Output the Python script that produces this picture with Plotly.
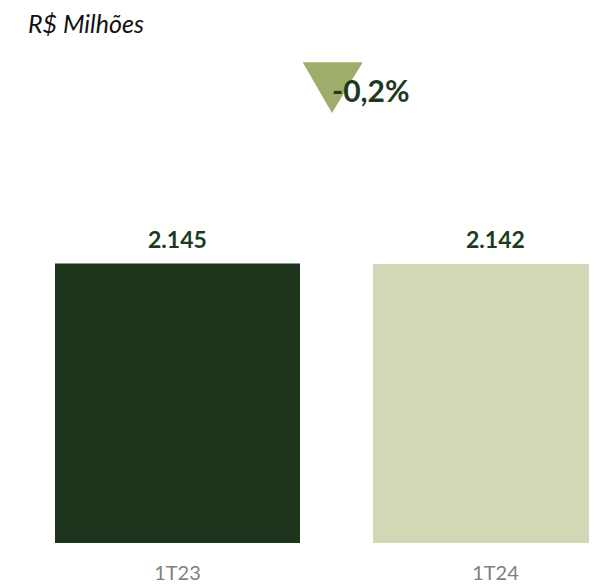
import plotly.graph_objects as go

categories = ["1T23", "1T24"]
values = [2145, 2142]
value_labels = ["2.145", "2.142"]
bar_colors = ["#1c331c", "#d1d8b5"]
change_label = "-0,2%"
unit_label = "R$ Milhões"

PAGE_W, PAGE_H = 597, 584
OFF = 8  # page body margin offset
W, H = PAGE_W - OFF, PAGE_H - OFF
plot_bottom = 548 - OFF
mb = H - plot_bottom
plot_h = plot_bottom
bar_top_px = 266 - OFF
ymax = values[0] * plot_h / (plot_h - bar_top_px)

c0 = 177.5 - OFF
c1 = 495.5 - OFF
unit = c1 - c0

fig = go.Figure()
fig.add_trace(go.Bar(
    x=list(range(len(categories))),
    y=values,
    marker=dict(color=bar_colors, line=dict(width=0)),
    width=245 / unit,
    hoverinfo="skip",
))

for i, (v, lab) in enumerate(zip(values, value_labels)):
    fig.add_annotation(
        x=i, y=v, xref="x", yref="y", text=f"<b>{lab}</b>",
        showarrow=False, yanchor="middle", yshift=25,
        font=dict(family="Lato", size=23, color="#1e3a1e"),
    )

def px_x(p):
    return (p - OFF) / W

def px_y(p):
    return (plot_bottom - (p - OFF)) / plot_h

fig.add_shape(
    type="path", xref="paper", yref="paper",
    path=f"M {px_x(302.7)},{px_y(62.7)} L {px_x(362.7)},{px_y(62.7)} L {px_x(332)},{px_y(114)} Z",
    fillcolor="#9fad6b", line=dict(width=0),
)
fig.add_annotation(
    x=px_x(370.5), y=px_y(91), xref="paper", yref="paper",
    text=f"<b>{change_label}</b>", showarrow=False,
    xanchor="center", yanchor="middle",
    font=dict(family="Lato", size=30, color="#1e3a1e"),
)
fig.add_annotation(
    x=px_x(26), y=px_y(23), xref="paper", yref="paper",
    text=f"<i>{unit_label}</i>", showarrow=False,
    xanchor="left", yanchor="middle",
    font=dict(family="Lato", size=25, color="#111111"),
)

fig.update_layout(
    width=W, height=H,
    margin=dict(l=0, r=0, t=0, b=mb),
    paper_bgcolor="white", plot_bgcolor="white",
    showlegend=False,
    xaxis=dict(
        range=[-c0 / unit, 1 + (W - c1) / unit],
        tickmode="array", tickvals=list(range(len(categories))), ticktext=categories,
        showgrid=False, zeroline=False, showline=False, ticks="",
        tickfont=dict(family="Lato", size=20, color="#808080"),
        ticklabelstandoff=16,
    ),
    yaxis=dict(range=[0, ymax], visible=False, showgrid=False, zeroline=False),
)

fig.write_html("out.html")
